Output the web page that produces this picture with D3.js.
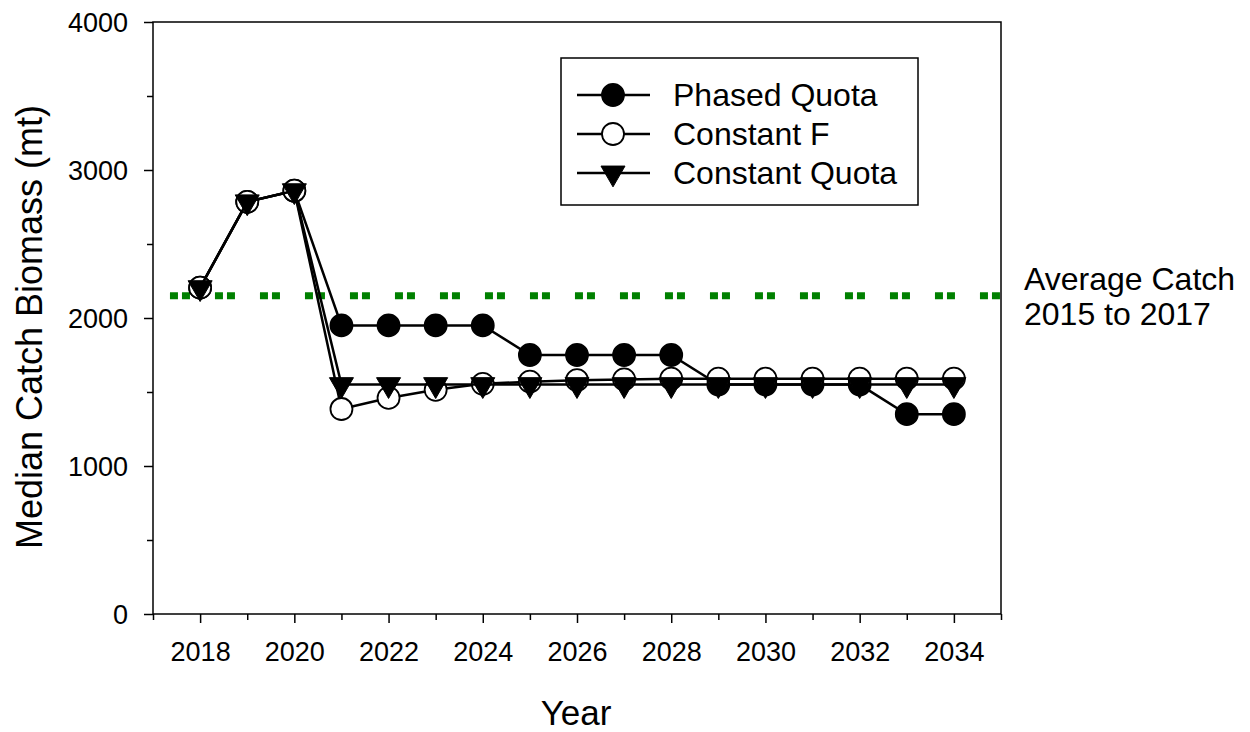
<!DOCTYPE html>
<html>
<head>
<meta charset="utf-8">
<script src="https://cdn.jsdelivr.net/npm/d3@7/dist/d3.min.js"></script>
<style>
  body { margin: 0; background: #fff; }
  svg { display: block; font-family: "Liberation Sans", Arial, sans-serif; }
</style>
</head>
<body>
<svg id="chart" width="1250" height="732"></svg>
<script>
// data
var years = [2018, 2019, 2020, 2021, 2022, 2023, 2024, 2025, 2026, 2027, 2028, 2029, 2030, 2031, 2032, 2033, 2034];
var phasedQuota = [2205, 2785, 2860, 1950, 1950, 1950, 1950, 1750, 1750, 1750, 1750, 1550, 1550, 1550, 1550, 1350, 1350];
var constantF = [2205, 2785, 2860, 1385, 1460, 1515, 1555, 1570, 1580, 1585, 1590, 1590, 1590, 1590, 1590, 1590, 1590];
var constantQuota = [2205, 2785, 2860, 1550, 1550, 1550, 1550, 1550, 1550, 1550, 1550, 1550, 1550, 1550, 1550, 1550, 1550];
var seriesNames = ['Phased Quota', 'Constant F', 'Constant Quota'];
var averageCatch = 2150;
var averageSpan = [2017.36, 2035];
var averageLabel = ['Average Catch', '2015 to 2017'];
var yMajorTicks = [0, 1000, 2000, 3000, 4000];
var yMinorTicks = [500, 1500, 2500, 3500];
var xMajorTicks = [2018, 2020, 2022, 2024, 2026, 2028, 2030, 2032, 2034];
var xMinorTicks = [2017, 2019, 2021, 2023, 2025, 2027, 2029, 2031, 2033, 2035];

var svg = d3.select('#chart');

var x = d3.scaleLinear().domain([2017, 2035]).range([153, 1001]);
var y = d3.scaleLinear().domain([0, 4000]).range([614, 22]);

// axes
var yAxis = svg.append('g').attr('transform', 'translate(153,0)')
  .call(d3.axisLeft(y).tickValues(yMajorTicks).tickSize(9).tickPadding(16).tickFormat(d3.format('d')));
svg.append('g').attr('transform', 'translate(153,0)')
  .call(d3.axisLeft(y).tickValues(yMinorTicks).tickSize(6).tickFormat(''));

var xAxis = svg.append('g').attr('transform', 'translate(0,614)')
  .call(d3.axisBottom(x).tickValues(xMajorTicks).tickSize(9).tickFormat(d3.format('d')));
svg.append('g').attr('transform', 'translate(0,614)')
  .call(d3.axisBottom(x).tickValues(xMinorTicks).tickSize(6).tickFormat(''));

svg.selectAll('.domain').remove();
svg.selectAll('.tick line').attr('stroke', '#000').attr('stroke-width', 1.5);
svg.selectAll('.tick text').attr('fill', '#000').style('font-size', '27px');
yAxis.selectAll('.tick text').attr('dy', '0.36em');
xAxis.selectAll('.tick text').attr('y', 47).attr('dy', null);

// frame
svg.append('rect')
  .attr('x', x(2017)).attr('y', y(4000))
  .attr('width', x(2035) - x(2017)).attr('height', y(0) - y(4000))
  .attr('fill', 'none').attr('stroke', '#000').attr('stroke-width', 1.5);

// reference line
svg.append('line')
  .attr('x1', x(averageSpan[0])).attr('x2', x(averageSpan[1]))
  .attr('y1', y(averageCatch)).attr('y2', y(averageCatch))
  .attr('stroke', '#008000').attr('stroke-width', 7)
  .attr('stroke-dasharray', '8,4,8,25');

var avgText = svg.append('text').attr('x', 1024).attr('y', 290)
  .style('font-size', '32px').attr('fill', '#000');
averageLabel.forEach(function(t, i) {
  avgText.append('tspan').attr('x', 1024).attr('dy', i === 0 ? 0 : 35).text(t);
});

// series
var line = d3.line().x(function(d) { return x(d[0]); }).y(function(d) { return y(d[1]); });
var tri = d3.symbol().type(d3.symbolTriangle).size(250);

function drawMarker(g, kind) {
  if (kind === 'tri') {
    return g.append('path').attr('d', tri).attr('fill', '#000')
      .attr('stroke', '#000').attr('stroke-width', 1).attr('transform', function(d) {
        return 'translate(' + d.cx + ',' + d.cy + ') rotate(180)';
      });
  }
  return g.append('circle').attr('cx', function(d) { return d.cx; }).attr('cy', function(d) { return d.cy; })
    .attr('r', 11).attr('fill', kind === 'open' ? '#fff' : '#000')
    .attr('stroke', '#000').attr('stroke-width', 1.8);
}

var series = [
  {name: seriesNames[0], values: phasedQuota, kind: 'filled'},
  {name: seriesNames[1], values: constantF, kind: 'open'},
  {name: seriesNames[2], values: constantQuota, kind: 'tri'},
];

series.forEach(function(s) {
  var pts = years.map(function(yr, i) { return [yr, s.values[i]]; });
  var g = svg.append('g');
  g.append('path').attr('d', line(pts)).attr('fill', 'none')
    .attr('stroke', '#000').attr('stroke-width', 2.5);
  var m = g.selectAll('.m').data(pts.map(function(p) { return {cx: x(p[0]), cy: y(p[1])}; }))
    .enter();
  drawMarker(m, s.kind);
});

// legend
var legend = svg.append('g');
legend.append('rect').attr('x', 561).attr('y', 58).attr('width', 357).attr('height', 147)
  .attr('fill', '#fff').attr('stroke', '#000').attr('stroke-width', 1.5);
var rowY = [95, 134, 173];
series.forEach(function(s, i) {
  var row = legend.append('g');
  row.append('line').attr('x1', 577).attr('x2', 650).attr('y1', rowY[i]).attr('y2', rowY[i])
    .attr('stroke', '#000').attr('stroke-width', 2.5);
  drawMarker(row.selectAll('.m').data([{cx: 613, cy: rowY[i]}]).enter(), s.kind);
  row.append('text').attr('x', 673).attr('y', rowY[i] + 11)
    .style('font-size', '32px').attr('fill', '#000').text(s.name);
});

// axis titles
svg.append('text').attr('x', 576).attr('y', 725).attr('text-anchor', 'middle')
  .style('font-size', '35px').attr('fill', '#000').text('Year');
svg.append('text').attr('transform', 'translate(42,327) rotate(-90)').attr('text-anchor', 'middle')
  .style('font-size', '36px').attr('fill', '#000').text('Median Catch Biomass (mt)');
</script>
</body>
</html>
